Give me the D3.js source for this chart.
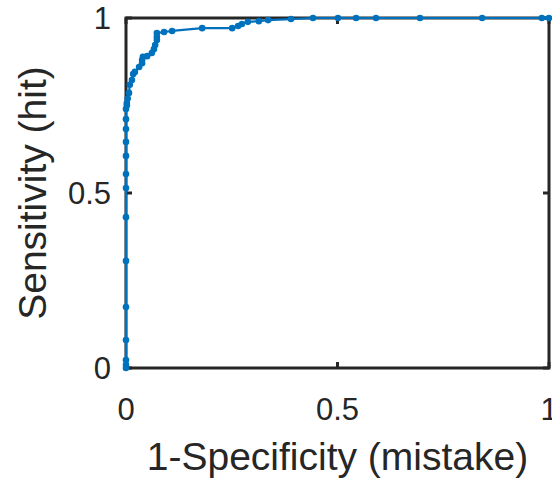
<!DOCTYPE html>
<html><head><meta charset="utf-8">
<script src="https://cdn.jsdelivr.net/npm/d3@7"></script>
<style>html,body{margin:0;padding:0;background:#fff;}svg{display:block;}</style>
</head><body>
<svg id="c" width="552" height="481"></svg>
<script>
// ROC curve points (1-Specificity, Sensitivity)
const fpr = [0,0,0,0,0,0,0,0,0,0,0,0,0,0,0.002,0.002,0.004,0.007,0.009,0.014,0.017,0.021,0.031,0.038,0.038,0.040,0.050,0.061,0.066,0.069,0.073,0.073,0.073,0.090,0.109,0.180,0.251,0.265,0.274,0.288,0.314,0.336,0.390,0.442,0.501,0.544,0.591,0.695,0.842,0.983,1];
const tpr = [0,0.009,0.023,0.080,0.174,0.306,0.431,0.514,0.554,0.606,0.646,0.683,0.711,0.740,0.751,0.757,0.770,0.786,0.809,0.823,0.840,0.846,0.860,0.871,0.880,0.889,0.891,0.900,0.911,0.923,0.937,0.946,0.957,0.960,0.963,0.971,0.971,0.977,0.983,0.989,0.991,0.994,0.997,1,1,1,1,1,1,1,1];
const xTicks = [0, 0.5, 1];
const yTicks = [0, 0.5, 1];
const xTickLabels = ["0", "0.5", "1"];
const yTickLabels = ["0", "0.5", "1"];
const xLabel = "1-Specificity (mistake)";
const yLabel = "Sensitivity (hit)";

const svg = d3.select("#c");
const L = 126, R = 549, T = 18, B = 368;
const x = d3.scaleLinear().domain([0,1]).range([L,R]);
const y = d3.scaleLinear().domain([0,1]).range([B,T]);
const axisColor = "#262626";
const font = "'Liberation Sans', Arial, Helvetica, sans-serif";

const data = fpr.map((v,i)=>({x:v,y:tpr[i]}));

// box
svg.append("rect").attr("x",L).attr("y",T).attr("width",R-L).attr("height",B-T)
  .attr("fill","none").attr("stroke",axisColor).attr("stroke-width",3);

// ticks (inward, on all four sides)
const tl = 6;
xTicks.forEach(t=>{
  svg.append("line").attr("x1",x(t)).attr("x2",x(t)).attr("y1",B).attr("y2",B-tl).attr("stroke",axisColor).attr("stroke-width",3);
  svg.append("line").attr("x1",x(t)).attr("x2",x(t)).attr("y1",T).attr("y2",T+tl).attr("stroke",axisColor).attr("stroke-width",3);
});
yTicks.forEach(t=>{
  svg.append("line").attr("x1",L).attr("x2",L+tl).attr("y1",y(t)).attr("y2",y(t)).attr("stroke",axisColor).attr("stroke-width",3);
  svg.append("line").attr("x1",R).attr("x2",R-tl).attr("y1",y(t)).attr("y2",y(t)).attr("stroke",axisColor).attr("stroke-width",3);
});

// tick labels
svg.selectAll(".xt").data(xTicks).enter().append("text")
  .attr("x",d=>x(d)).attr("y",B+52).attr("text-anchor","middle")
  .attr("font-family",font).attr("font-size",31).attr("fill",axisColor)
  .text((d,i)=>xTickLabels[i]);
svg.selectAll(".yt").data(yTicks).enter().append("text")
  .attr("x",L-15).attr("y",d=>y(d)).attr("dy","0.35em").attr("text-anchor","end")
  .attr("font-family",font).attr("font-size",31).attr("fill",axisColor)
  .text((d,i)=>yTickLabels[i]);

// axis labels
svg.append("text").attr("x",(L+R)/2).attr("y",470).attr("text-anchor","middle")
  .attr("font-family",font).attr("font-size",39).attr("fill",axisColor).text(xLabel);
svg.append("text").attr("transform",`translate(46,${(T+B)/2}) rotate(-90)`).attr("text-anchor","middle")
  .attr("font-family",font).attr("font-size",39).attr("fill",axisColor).text(yLabel);

// curve
const line = d3.line().x(d=>x(d.x)).y(d=>y(d.y));
svg.append("path").datum(data).attr("d",line).attr("fill","none")
  .attr("stroke","#0072BD").attr("stroke-width",2.2);
svg.selectAll(".pt").data(data).enter().append("circle")
  .attr("cx",d=>x(d.x)).attr("cy",d=>y(d.y)).attr("r",3.3).attr("fill","#0072BD");
</script>
</body></html>
